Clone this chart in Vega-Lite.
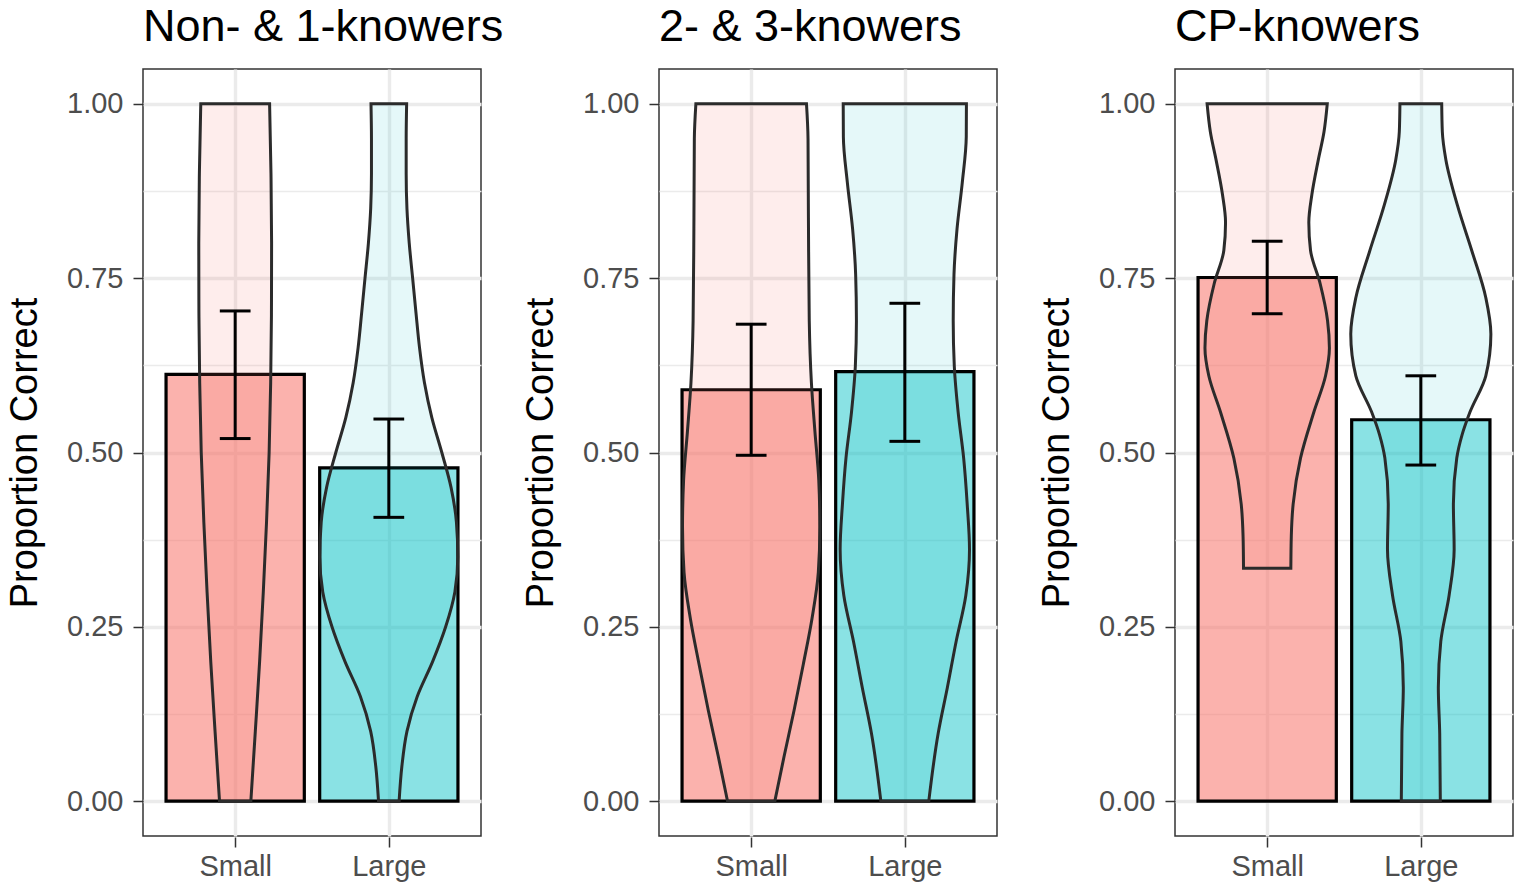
{
  "$schema": "https://vega.github.io/schema/vega-lite/v6.json",
  "padding": 5,
  "background": "white",
  "config": {
    "font": "Liberation Sans",
    "view": {"stroke": "#333333", "strokeWidth": 1.5}
  },
  "data": {
    "values": [
      {"panel": "Non- & 1-knowers", "size": "Small", "kind": "bar", "mean": 0.612, "lo": 0.52, "hi": 0.703},
      {"panel": "Non- & 1-knowers", "size": "Large", "kind": "bar", "mean": 0.478, "lo": 0.407, "hi": 0.548},
      {"panel": "2- & 3-knowers", "size": "Small", "kind": "bar", "mean": 0.59, "lo": 0.496, "hi": 0.684},
      {"panel": "2- & 3-knowers", "size": "Large", "kind": "bar", "mean": 0.616, "lo": 0.516, "hi": 0.714},
      {"panel": "CP-knowers", "size": "Small", "kind": "bar", "mean": 0.751, "lo": 0.699, "hi": 0.803},
      {"panel": "CP-knowers", "size": "Large", "kind": "bar", "mean": 0.547, "lo": 0.482, "hi": 0.61},

      {"panel": "Non- & 1-knowers", "size": "Small", "kind": "violin", "p": 0.0, "w": 0.102},
      {"panel": "Non- & 1-knowers", "size": "Small", "kind": "violin", "p": 0.1, "w": 0.131},
      {"panel": "Non- & 1-knowers", "size": "Small", "kind": "violin", "p": 0.2, "w": 0.159},
      {"panel": "Non- & 1-knowers", "size": "Small", "kind": "violin", "p": 0.3, "w": 0.183},
      {"panel": "Non- & 1-knowers", "size": "Small", "kind": "violin", "p": 0.4, "w": 0.204},
      {"panel": "Non- & 1-knowers", "size": "Small", "kind": "violin", "p": 0.5, "w": 0.221},
      {"panel": "Non- & 1-knowers", "size": "Small", "kind": "violin", "p": 0.6, "w": 0.231},
      {"panel": "Non- & 1-knowers", "size": "Small", "kind": "violin", "p": 0.7, "w": 0.236},
      {"panel": "Non- & 1-knowers", "size": "Small", "kind": "violin", "p": 0.8, "w": 0.237},
      {"panel": "Non- & 1-knowers", "size": "Small", "kind": "violin", "p": 0.9, "w": 0.233},
      {"panel": "Non- & 1-knowers", "size": "Small", "kind": "violin", "p": 1.0, "w": 0.224},

      {"panel": "Non- & 1-knowers", "size": "Large", "kind": "violin", "p": 0.0, "w": 0.067},
      {"panel": "Non- & 1-knowers", "size": "Large", "kind": "violin", "p": 0.05, "w": 0.085},
      {"panel": "Non- & 1-knowers", "size": "Large", "kind": "violin", "p": 0.1, "w": 0.118},
      {"panel": "Non- & 1-knowers", "size": "Large", "kind": "violin", "p": 0.15, "w": 0.185},
      {"panel": "Non- & 1-knowers", "size": "Large", "kind": "violin", "p": 0.2, "w": 0.285},
      {"panel": "Non- & 1-knowers", "size": "Large", "kind": "violin", "p": 0.25, "w": 0.37},
      {"panel": "Non- & 1-knowers", "size": "Large", "kind": "violin", "p": 0.3, "w": 0.43},
      {"panel": "Non- & 1-knowers", "size": "Large", "kind": "violin", "p": 0.35, "w": 0.449},
      {"panel": "Non- & 1-knowers", "size": "Large", "kind": "violin", "p": 0.4, "w": 0.44},
      {"panel": "Non- & 1-knowers", "size": "Large", "kind": "violin", "p": 0.45, "w": 0.405},
      {"panel": "Non- & 1-knowers", "size": "Large", "kind": "violin", "p": 0.5, "w": 0.345},
      {"panel": "Non- & 1-knowers", "size": "Large", "kind": "violin", "p": 0.55, "w": 0.28},
      {"panel": "Non- & 1-knowers", "size": "Large", "kind": "violin", "p": 0.6, "w": 0.232},
      {"panel": "Non- & 1-knowers", "size": "Large", "kind": "violin", "p": 0.65, "w": 0.2},
      {"panel": "Non- & 1-knowers", "size": "Large", "kind": "violin", "p": 0.7, "w": 0.177},
      {"panel": "Non- & 1-knowers", "size": "Large", "kind": "violin", "p": 0.75, "w": 0.155},
      {"panel": "Non- & 1-knowers", "size": "Large", "kind": "violin", "p": 0.8, "w": 0.133},
      {"panel": "Non- & 1-knowers", "size": "Large", "kind": "violin", "p": 0.85, "w": 0.118},
      {"panel": "Non- & 1-knowers", "size": "Large", "kind": "violin", "p": 0.9, "w": 0.113},
      {"panel": "Non- & 1-knowers", "size": "Large", "kind": "violin", "p": 0.95, "w": 0.113},
      {"panel": "Non- & 1-knowers", "size": "Large", "kind": "violin", "p": 1.0, "w": 0.116},

      {"panel": "2- & 3-knowers", "size": "Small", "kind": "violin", "p": 0.0, "w": 0.154},
      {"panel": "2- & 3-knowers", "size": "Small", "kind": "violin", "p": 0.064, "w": 0.214},
      {"panel": "2- & 3-knowers", "size": "Small", "kind": "violin", "p": 0.13, "w": 0.279},
      {"panel": "2- & 3-knowers", "size": "Small", "kind": "violin", "p": 0.196, "w": 0.339},
      {"panel": "2- & 3-knowers", "size": "Small", "kind": "violin", "p": 0.262, "w": 0.396},
      {"panel": "2- & 3-knowers", "size": "Small", "kind": "violin", "p": 0.328, "w": 0.437},
      {"panel": "2- & 3-knowers", "size": "Small", "kind": "violin", "p": 0.393, "w": 0.447},
      {"panel": "2- & 3-knowers", "size": "Small", "kind": "violin", "p": 0.46, "w": 0.44},
      {"panel": "2- & 3-knowers", "size": "Small", "kind": "violin", "p": 0.53, "w": 0.415},
      {"panel": "2- & 3-knowers", "size": "Small", "kind": "violin", "p": 0.6, "w": 0.392},
      {"panel": "2- & 3-knowers", "size": "Small", "kind": "violin", "p": 0.689, "w": 0.378},
      {"panel": "2- & 3-knowers", "size": "Small", "kind": "violin", "p": 0.821, "w": 0.373},
      {"panel": "2- & 3-knowers", "size": "Small", "kind": "violin", "p": 0.95, "w": 0.37},
      {"panel": "2- & 3-knowers", "size": "Small", "kind": "violin", "p": 1.0, "w": 0.36},

      {"panel": "2- & 3-knowers", "size": "Large", "kind": "violin", "p": 0.0, "w": 0.156},
      {"panel": "2- & 3-knowers", "size": "Large", "kind": "violin", "p": 0.097, "w": 0.217},
      {"panel": "2- & 3-knowers", "size": "Large", "kind": "violin", "p": 0.163, "w": 0.277},
      {"panel": "2- & 3-knowers", "size": "Large", "kind": "violin", "p": 0.229, "w": 0.334},
      {"panel": "2- & 3-knowers", "size": "Large", "kind": "violin", "p": 0.295, "w": 0.397},
      {"panel": "2- & 3-knowers", "size": "Large", "kind": "violin", "p": 0.361, "w": 0.421},
      {"panel": "2- & 3-knowers", "size": "Large", "kind": "violin", "p": 0.426, "w": 0.406},
      {"panel": "2- & 3-knowers", "size": "Large", "kind": "violin", "p": 0.492, "w": 0.383},
      {"panel": "2- & 3-knowers", "size": "Large", "kind": "violin", "p": 0.558, "w": 0.347},
      {"panel": "2- & 3-knowers", "size": "Large", "kind": "violin", "p": 0.624, "w": 0.322},
      {"panel": "2- & 3-knowers", "size": "Large", "kind": "violin", "p": 0.689, "w": 0.315},
      {"panel": "2- & 3-knowers", "size": "Large", "kind": "violin", "p": 0.755, "w": 0.32},
      {"panel": "2- & 3-knowers", "size": "Large", "kind": "violin", "p": 0.821, "w": 0.34},
      {"panel": "2- & 3-knowers", "size": "Large", "kind": "violin", "p": 0.887, "w": 0.374},
      {"panel": "2- & 3-knowers", "size": "Large", "kind": "violin", "p": 0.953, "w": 0.4},
      {"panel": "2- & 3-knowers", "size": "Large", "kind": "violin", "p": 1.0, "w": 0.401},

      {"panel": "CP-knowers", "size": "Small", "kind": "violin", "p": 0.334, "w": 0.154},
      {"panel": "CP-knowers", "size": "Small", "kind": "violin", "p": 0.38, "w": 0.157},
      {"panel": "CP-knowers", "size": "Small", "kind": "violin", "p": 0.426, "w": 0.169},
      {"panel": "CP-knowers", "size": "Small", "kind": "violin", "p": 0.492, "w": 0.217},
      {"panel": "CP-knowers", "size": "Small", "kind": "violin", "p": 0.558, "w": 0.304},
      {"panel": "CP-knowers", "size": "Small", "kind": "violin", "p": 0.61, "w": 0.38},
      {"panel": "CP-knowers", "size": "Small", "kind": "violin", "p": 0.65, "w": 0.405},
      {"panel": "CP-knowers", "size": "Small", "kind": "violin", "p": 0.689, "w": 0.393},
      {"panel": "CP-knowers", "size": "Small", "kind": "violin", "p": 0.742, "w": 0.345},
      {"panel": "CP-knowers", "size": "Small", "kind": "violin", "p": 0.79, "w": 0.282},
      {"panel": "CP-knowers", "size": "Small", "kind": "violin", "p": 0.83, "w": 0.271},
      {"panel": "CP-knowers", "size": "Small", "kind": "violin", "p": 0.87, "w": 0.291},
      {"panel": "CP-knowers", "size": "Small", "kind": "violin", "p": 0.92, "w": 0.333},
      {"panel": "CP-knowers", "size": "Small", "kind": "violin", "p": 0.96, "w": 0.37},
      {"panel": "CP-knowers", "size": "Small", "kind": "violin", "p": 1.0, "w": 0.391},

      {"panel": "CP-knowers", "size": "Large", "kind": "violin", "p": 0.0, "w": 0.127},
      {"panel": "CP-knowers", "size": "Large", "kind": "violin", "p": 0.097, "w": 0.123},
      {"panel": "CP-knowers", "size": "Large", "kind": "violin", "p": 0.163, "w": 0.114},
      {"panel": "CP-knowers", "size": "Large", "kind": "violin", "p": 0.229, "w": 0.13},
      {"panel": "CP-knowers", "size": "Large", "kind": "violin", "p": 0.295, "w": 0.184},
      {"panel": "CP-knowers", "size": "Large", "kind": "violin", "p": 0.361, "w": 0.217},
      {"panel": "CP-knowers", "size": "Large", "kind": "violin", "p": 0.426, "w": 0.212},
      {"panel": "CP-knowers", "size": "Large", "kind": "violin", "p": 0.492, "w": 0.234},
      {"panel": "CP-knowers", "size": "Large", "kind": "violin", "p": 0.525, "w": 0.268},
      {"panel": "CP-knowers", "size": "Large", "kind": "violin", "p": 0.558, "w": 0.32},
      {"panel": "CP-knowers", "size": "Large", "kind": "violin", "p": 0.61, "w": 0.423},
      {"panel": "CP-knowers", "size": "Large", "kind": "violin", "p": 0.67, "w": 0.456},
      {"panel": "CP-knowers", "size": "Large", "kind": "violin", "p": 0.722, "w": 0.423},
      {"panel": "CP-knowers", "size": "Large", "kind": "violin", "p": 0.788, "w": 0.334},
      {"panel": "CP-knowers", "size": "Large", "kind": "violin", "p": 0.854, "w": 0.239},
      {"panel": "CP-knowers", "size": "Large", "kind": "violin", "p": 0.92, "w": 0.163},
      {"panel": "CP-knowers", "size": "Large", "kind": "violin", "p": 0.96, "w": 0.14},
      {"panel": "CP-knowers", "size": "Large", "kind": "violin", "p": 1.0, "w": 0.136}
    ]
  },
  "facet": {
    "column": {
      "field": "panel",
      "type": "nominal",
      "sort": ["Non- & 1-knowers", "2- & 3-knowers", "CP-knowers"],
      "header": {
        "title": null,
        "labelFontSize": 45,
        "labelFont": "Liberation Sans",
        "labelColor": "black",
        "labelAnchor": "start",
        "labelAlign": "left",
        "labelBaseline": "alphabetic",
        "labelPadding": -18
      }
    }
  },
  "spacing": 39,
  "resolve": {"axis": {"y": "independent"}},
  "spec": {
    "width": 338,
    "height": 767,
    "resolve": {"axis": {"y": "independent"}, "scale": {"fillOpacity": "independent"}},
    "layer": [
      {
        "transform": [
          {"filter": "datum.kind === 'bar'"},
          {"calculate": "datum.size === 'Small' ? 1 : 2", "as": "pos"},
          {"calculate": "datum.pos - 0.45", "as": "xl"},
          {"calculate": "datum.pos + 0.45", "as": "xr"}
        ],
        "mark": {"type": "bar", "stroke": "black", "strokeWidth": 3.2},
        "encoding": {
          "x": {
            "field": "xl", "type": "quantitative",
            "scale": {"domain": [0.4, 2.6], "nice": false, "zero": false},
            "axis": {
              "values": [1, 2],
              "labelExpr": "datum.value == 1 ? 'Small' : 'Large'",
              "title": null,
              "grid": true, "gridColor": "#EBEBEB", "gridWidth": 3.4,
              "domain": false,
              "tickColor": "#333333", "tickWidth": 1.5, "tickSize": 10,
              "labelPadding": 5, "labelFontSize": 29, "labelColor": "#4D4D4D", "labelFont": "Liberation Sans"
            }
          },
          "x2": {"field": "xr"},
          "y": {
            "field": "mean", "type": "quantitative",
            "scale": {"domain": [-0.05, 1.05], "nice": false, "zero": false},
            "axis": {
              "orient": "left",
              "values": [0, 0.25, 0.5, 0.75, 1],
              "format": ".2f",
              "title": "Proportion Correct",
              "grid": true, "gridColor": "#EBEBEB", "gridWidth": 3.4,
              "domain": false,
              "tickColor": "#333333", "tickWidth": 1.5, "tickSize": 10,
              "labelPadding": 10, "labelFontSize": 29, "labelColor": "#4D4D4D", "labelFont": "Liberation Sans",
              "titleFontSize": 38, "titleFontWeight": "normal", "titleColor": "black", "titleFont": "Liberation Sans",
              "titlePadding": 22
            }
          },
          "y2": {"datum": 0},
          "color": {
            "field": "size", "type": "nominal",
            "scale": {"domain": ["Small", "Large"], "range": ["#F8766D", "#00BFC4"]},
            "legend": null
          },
          "fillOpacity": {
            "field": "size", "type": "nominal",
            "scale": {"domain": ["Small", "Large"], "range": [0.56, 0.46]},
            "legend": null
          }
        }
      },
      {
        "transform": [
          {"filter": "datum.kind === 'violin'"},
          {"calculate": "datum.size === 'Small' ? 1 : 2", "as": "pos"},
          {"calculate": "datum.pos - datum.w", "as": "a"},
          {"calculate": "datum.pos + datum.w", "as": "b"}
        ],
        "mark": {"type": "area", "orient": "horizontal", "interpolate": "monotone", "stroke": "#2B2B2B", "strokeWidth": 3},
        "encoding": {
          "y": {
            "field": "p", "type": "quantitative",
            "axis": {
              "orient": "right",
              "values": [0.125, 0.375, 0.625, 0.875],
              "grid": true, "gridColor": "#EBEBEB", "gridWidth": 1.7,
              "labels": false, "ticks": false, "domain": false, "title": null
            }
          },
          "x": {"field": "a", "type": "quantitative", "axis": {"title": null}},
          "x2": {"field": "b"},
          "color": {"field": "size", "type": "nominal", "legend": null},
          "fillOpacity": {
            "field": "size", "type": "nominal",
            "scale": {"domain": ["Small", "Large"], "range": [0.13, 0.1]},
            "legend": null
          }
        }
      },
      {
        "transform": [
          {"filter": "datum.kind === 'bar'"},
          {"calculate": "datum.size === 'Small' ? 1 : 2", "as": "pos"}
        ],
        "mark": {"type": "rule", "color": "black", "strokeWidth": 3},
        "encoding": {
          "x": {"field": "pos", "type": "quantitative", "axis": {"title": null}},
          "y": {"field": "lo", "type": "quantitative", "axis": null},
          "y2": {"field": "hi"}
        }
      },
      {
        "transform": [
          {"filter": "datum.kind === 'bar'"},
          {"calculate": "datum.size === 'Small' ? 1 : 2", "as": "pos"},
          {"calculate": "datum.pos - 0.1", "as": "cl"},
          {"calculate": "datum.pos + 0.1", "as": "cr"}
        ],
        "mark": {"type": "rule", "color": "black", "strokeWidth": 3},
        "encoding": {
          "x": {"field": "cl", "type": "quantitative", "axis": {"title": null}},
          "x2": {"field": "cr"},
          "y": {"field": "hi", "type": "quantitative", "axis": null}
        }
      },
      {
        "transform": [
          {"filter": "datum.kind === 'bar'"},
          {"calculate": "datum.size === 'Small' ? 1 : 2", "as": "pos"},
          {"calculate": "datum.pos - 0.1", "as": "cl"},
          {"calculate": "datum.pos + 0.1", "as": "cr"}
        ],
        "mark": {"type": "rule", "color": "black", "strokeWidth": 3},
        "encoding": {
          "x": {"field": "cl", "type": "quantitative", "axis": {"title": null}},
          "x2": {"field": "cr"},
          "y": {"field": "lo", "type": "quantitative", "axis": null}
        }
      }
    ]
  }
}
